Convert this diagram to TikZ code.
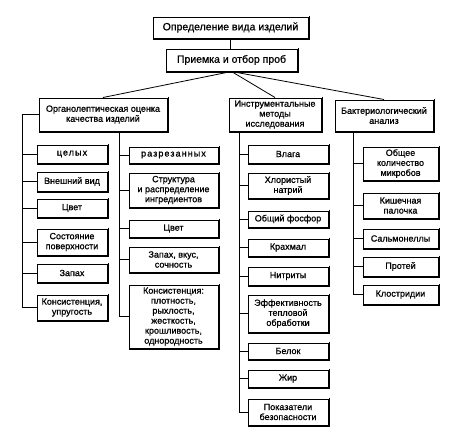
\documentclass[tikz,border=0pt]{standalone}
\usepackage{fontspec}
\setmainfont[FakeBold=0.9]{Liberation Sans}
\begin{document}
\begin{tikzpicture}[x=1pt,y=-1pt,
  bx/.style={draw,line width=1pt,inner sep=0pt,align=center,font=\fontsize{9}{10}\selectfont},
  big/.style={font=\fontsize{10.5}{12}\selectfont},
  ln/.style={line width=0.8pt},
  sp/.style={font=\fontsize{9}{10}\selectfont\addfontfeature{LetterSpace=12}},
  shd/.style={line width=1pt}]
\useasboundingbox (0,0) rectangle (459,434);
\newcommand\bx[7][]{\node[bx,#1,minimum width={(#5-#3)*1pt},minimum height={(#6-#4)*1pt}] (#2) at ({(#3+#5)/2},{(#4+#6)/2}) {#7};
  \draw[shd] ([xshift=0.8pt,yshift=0.8pt]#2.north east) -- ([xshift=0.8pt,yshift=-0.8pt]#2.south east) -- ([xshift=0.8pt,yshift=-0.8pt]#2.south west);}
% top
\bx[big]{t}{153}{17}{308}{38}{Определение вида изделий}
\bx[big]{p}{166}{49}{297}{71}{Приемка и отбор проб}
\bx{o}{39}{98}{167}{131}{Органолептическая оценка\\качества изделий}
\bx{i}{229}{98}{321}{131}{Инструментальные\\методы\\исследования}
\bx{b}{335}{100}{433}{131}{Бактериологический\\анализ}
% left column
\bx[sp]{a1}{37}{145}{107}{163}{целых}
\bx{a2}{37}{172}{107}{191}{Внешний вид}
\bx{a3}{37}{199}{107}{217}{Цвет}
\bx{a4}{37}{229}{107}{255}{Состояние\\поверхности}
\bx{a5}{37}{264}{107}{282}{Запах}
\bx{a6}{37}{295}{107}{320}{Консистенция,\\упругость}
% middle column
\bx[sp]{m1}{129}{147}{218}{163}{разрезанных}
\bx{m2}{129}{173}{218}{207}{Структура\\и распределение\\ингредиентов}
\bx{m3}{129}{220}{218}{237}{Цвет}
\bx{m4}{129}{247}{218}{272}{Запах, вкус,\\сочность}
\bx{m5}{129}{285}{218}{348}{Консистенция:\\плотность,\\рыхлость,\\жесткость,\\крошливость,\\однородность}
% instrumental column
\bx{n1}{248}{145}{328}{163}{Влага}
\bx{n2}{248}{173}{328}{198}{Хлористый\\натрий}
\bx{n3}{248}{211}{328}{227}{Общий фосфор}
\bx{n4}{248}{239}{328}{256}{Крахмал}
\bx{n5}{248}{267}{328}{285}{Нитриты}
\bx{n6}{248}{295}{328}{332}{Эффективность\\тепловой\\обработки}
\bx{n7}{248}{343}{328}{359}{Белок}
\bx{n8}{248}{370}{328}{387}{Жир}
\bx{n9}{248}{399}{328}{425}{Показатели\\безопасности}
% bacteriological column
\bx{c1}{363}{147}{438}{180}{Общее\\количество\\микробов}
\bx{c2}{363}{193}{438}{218}{Кишечная\\палочка}
\bx{c3}{363}{229}{438}{248}{Сальмонеллы}
\bx{c4}{363}{257}{438}{276}{Протей}
\bx{c5}{363}{285}{438}{304}{Клостридии}
% connectors
\draw[ln] (t.south) -- (t.south |- p.north);
\draw[ln] (p.south) -- (o.north);
\draw[ln] (p.south) -- (i.north);
\draw[ln] (p.south) -- (b.north);
\coordinate (L) at (22,0);
\coordinate (M) at (119,0);
\coordinate (N) at (239,0);
\coordinate (B) at (353,0);
\draw[ln] (o.west) -- (o.west -| L) -- (L |- a6.west) -- (a6.west);
\foreach \k in {a1,a2,a3,a4,a5} \draw[ln] (\k.west -| L) -- (\k.west);
\draw[ln] (M |- o.south) -- (M |- m5.west) -- (m5.west);
\foreach \k in {m1,m2,m3,m4} \draw[ln] (\k.west -| M) -- (\k.west);
\draw[ln] (N |- i.south) -- (N |- n9.west) -- (n9.west);
\foreach \k in {n1,n2,n3,n4,n5,n6,n7,n8} \draw[ln] (\k.west -| N) -- (\k.west);
\draw[ln] (B |- b.south) -- (B |- c5.west) -- (c5.west);
\foreach \k in {c1,c2,c3,c4} \draw[ln] (\k.west -| B) -- (\k.west);
\end{tikzpicture}
\end{document}
